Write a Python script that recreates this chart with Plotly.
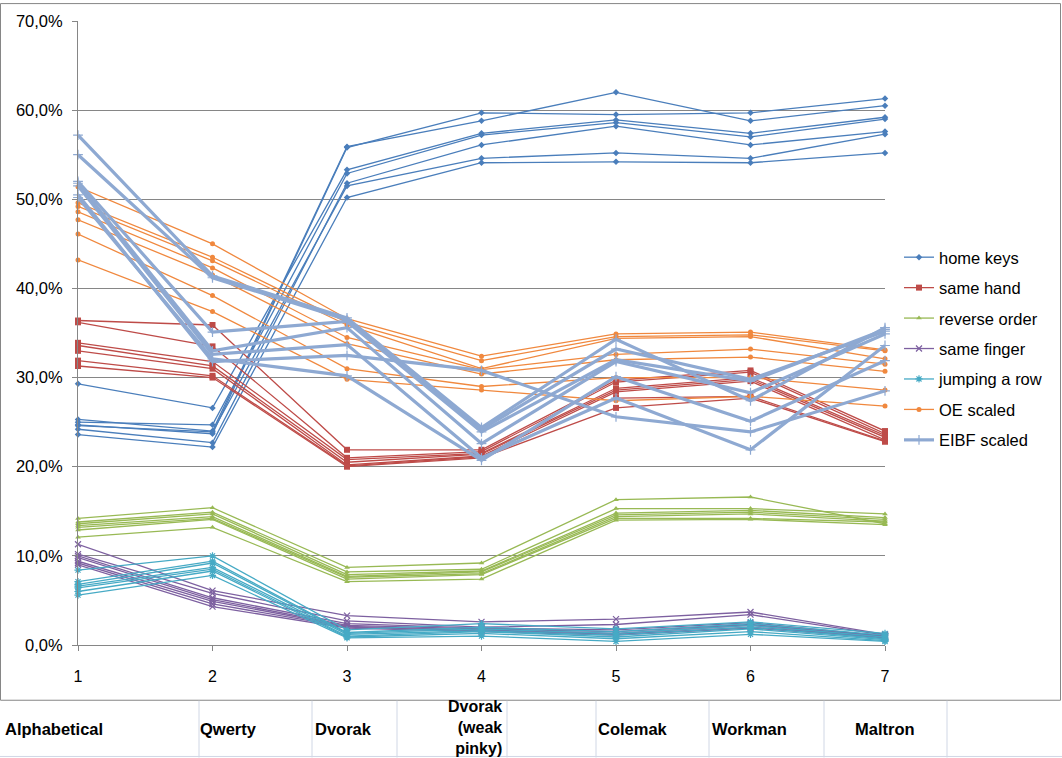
import plotly.graph_objects as go

# ---------------- data (values in %) ----------------
positions = [1, 2, 3, 4, 5, 6, 7]
tick_labels = ["1", "2", "3", "4", "5", "6", "7"]
layout_names = ["Alphabetical", "Qwerty", "Dvorak", "Dvorak<br>(weak<br>pinky)",
                "Colemak", "Workman", "Maltron"]
series_names = ["home keys", "same hand", "reverse order", "same finger",
                "jumping a row", "OE scaled", "EIBF scaled"]

home_keys = [
    [25.3, 24.0, 55.9, 58.8, 62.0, 58.8, 60.5],
    [24.7, 23.7, 55.8, 59.7, 59.5, 59.7, 61.3],
    [29.3, 26.6, 53.3, 57.4, 58.9, 57.4, 59.2],
    [25.0, 24.7, 52.9, 57.2, 58.6, 57.0, 59.0],
    [24.2, 22.7, 51.8, 56.1, 58.2, 56.1, 57.6],
    [24.6, 23.9, 51.5, 54.6, 55.2, 54.6, 57.3],
    [23.6, 22.2, 50.2, 54.1, 54.2, 54.1, 55.2],
]
same_hand = [
    [36.4, 35.9, 21.9, 21.9, 29.7, 30.8, 24.0],
    [36.2, 33.5, 21.0, 21.7, 29.5, 30.6, 23.7],
    [33.9, 31.8, 20.8, 21.5, 28.8, 30.0, 23.5],
    [33.6, 31.3, 20.5, 21.4, 28.6, 29.8, 23.3],
    [33.0, 31.0, 20.2, 21.2, 28.4, 29.6, 23.0],
    [31.9, 30.2, 20.1, 21.1, 27.7, 27.9, 22.9],
    [31.3, 30.0, 20.0, 21.0, 26.6, 27.7, 22.8],
]
reverse_order = [
    [14.2, 15.4, 8.7, 9.2, 16.3, 16.6, 13.6],
    [13.8, 14.9, 8.2, 8.5, 15.3, 15.3, 14.7],
    [13.6, 14.7, 7.9, 8.3, 14.8, 15.1, 14.3],
    [13.4, 14.4, 7.7, 8.2, 14.6, 14.9, 14.1],
    [13.2, 14.2, 7.6, 8.0, 14.4, 14.7, 13.9],
    [12.9, 14.1, 7.4, 7.9, 14.2, 14.2, 13.8],
    [12.1, 13.2, 7.1, 7.4, 14.0, 14.1, 13.5],
]
same_finger = [
    [11.3, 6.1, 3.3, 2.6, 2.9, 3.7, 1.2],
    [10.2, 5.8, 2.7, 2.0, 2.3, 3.4, 1.1],
    [10.0, 5.3, 2.4, 1.9, 1.7, 2.5, 1.0],
    [9.8, 5.1, 2.2, 1.8, 1.5, 2.3, 1.0],
    [9.4, 4.9, 2.1, 1.7, 1.3, 2.2, 0.9],
    [9.2, 4.6, 2.0, 1.6, 1.2, 2.0, 0.9],
    [9.0, 4.3, 1.9, 1.5, 1.1, 1.9, 0.8],
]
jumping_a_row = [
    [8.4, 10.0, 1.7, 2.4, 1.8, 2.6, 1.3],
    [7.1, 9.4, 1.4, 2.0, 1.5, 2.4, 1.1],
    [6.8, 9.2, 1.3, 1.8, 1.3, 2.2, 0.9],
    [6.6, 8.7, 1.2, 1.6, 1.1, 2.0, 0.7],
    [6.4, 8.5, 1.0, 1.5, 0.9, 1.8, 0.6],
    [6.0, 8.3, 0.9, 1.3, 0.7, 1.5, 0.5],
    [5.6, 7.8, 0.8, 1.0, 0.4, 1.2, 0.4],
]
oe_scaled = [
    [51.4, 45.0, 36.6, 32.4, 34.9, 35.1, 33.1],
    [49.6, 43.5, 36.2, 31.9, 34.6, 34.8, 33.0],
    [49.2, 43.1, 35.9, 31.0, 34.4, 34.6, 32.1],
    [48.6, 42.3, 34.5, 30.9, 32.6, 33.2, 31.5],
    [47.7, 41.5, 33.8, 30.4, 32.0, 32.3, 30.7],
    [46.1, 39.2, 31.0, 29.0, 30.0, 30.0, 28.6],
    [43.2, 37.4, 29.8, 28.6, 27.4, 27.9, 26.8],
]
eibf_scaled = [
    [57.2, 41.4, 36.7, 24.4, 34.3, 27.4, 35.6],
    [55.0, 41.2, 36.5, 24.2, 33.2, 29.8, 35.2],
    [52.0, 35.1, 36.3, 23.9, 32.0, 29.6, 35.4],
    [51.8, 33.0, 35.6, 22.6, 31.8, 28.3, 34.9],
    [51.5, 32.6, 33.7, 21.0, 27.7, 21.9, 33.6],
    [50.5, 31.8, 32.5, 30.8, 25.6, 23.9, 28.5],
    [50.2, 32.1, 30.2, 20.7, 30.1, 25.1, 31.9],
]
series_values = [home_keys, same_hand, reverse_order, same_finger,
                 jumping_a_row, oe_scaled, eibf_scaled]

# ---------------- styles ----------------
styles = [
    dict(color="#4A7EBB", symbol="diamond", size=5, width=1.3, open=False),
    dict(color="#BE4B48", symbol="square", size=6, width=1.3, open=False),
    dict(color="#98B954", symbol="triangle-up", size=5, width=1.3, open=False),
    dict(color="#7D60A0", symbol="x-thin-open", size=6, width=1.3, open=True),
    dict(color="#46AAC5", symbol="asterisk-open", size=6, width=1.3, open=True),
    dict(color="#F0883E", symbol="circle", size=5, width=1.3, open=False),
    dict(color="#8EA9D2", symbol="cross-thin-open", size=7, width=3.2, open=True),
]

W, H = 1062, 758
L, R, T, B = 78, 885, 18, 645


def px(x):
    return (x - L) / (R - L)


def py(y):
    return (B - y) / (B - T)


fig = go.Figure()
for name, vals, st in zip(series_names, series_values, styles):
    xs, ys = [], []
    for line in vals:
        xs += positions + [None]
        ys += [v / 100 for v in line] + [None]
    marker = dict(symbol=st["symbol"], size=st["size"], color=st["color"])
    if st["open"]:
        marker["line"] = dict(color=st["color"], width=1.2)
    else:
        marker["line"] = dict(width=0)
    fig.add_trace(go.Scatter(
        x=xs, y=ys, mode="lines+markers", name=name, legendgroup=name,
        line=dict(color=st["color"], width=st["width"]),
        marker=marker, connectgaps=False, cliponaxis=False,
    ))

fig.update_layout(
    width=W, height=H, autosize=False,
    margin=dict(l=L, r=W - R, t=T, b=H - B, pad=0),
    paper_bgcolor="white", plot_bgcolor="white",
    separators=",.",
    font=dict(family="Liberation Sans", size=16, color="black"),
    showlegend=True,
    legend=dict(x=px(899), y=py(238), xanchor="left", yanchor="top",
                bgcolor="rgba(0,0,0,0)", font=dict(size=16.5),
                tracegroupgap=6, itemwidth=30, traceorder="grouped"),
)
fig.update_xaxes(range=[1, 7], tickmode="array", tickvals=positions, ticktext=tick_labels,
                 showgrid=False, zeroline=False, showline=True, linecolor="#868686",
                 linewidth=1, ticks="outside", ticklen=5, tickcolor="#868686",
                 ticklabelstandoff=12, fixedrange=True)
fig.update_yaxes(range=[0, 0.7], dtick=0.1, tick0=0, tickformat=".1%",
                 showgrid=True, gridcolor="#868686", gridwidth=1, zeroline=False,
                 showline=True, linecolor="#868686", linewidth=1, ticks="outside",
                 ticklen=5, tickcolor="#868686", ticklabelstandoff=6, fixedrange=True,
                 tickfont=dict(size=16.5))

shapes = []
# chart border
shapes.append(dict(type="rect", xref="paper", yref="paper", x0=px(0.5), x1=px(1060.5),
                   y0=py(700.5), y1=py(0.5), line=dict(color="#868686", width=1),
                   fillcolor="rgba(0,0,0,0)", layer="below"))
# spreadsheet row
cell_edges = [199, 312, 397, 507, 596, 709, 824, 947]
for cx in cell_edges:
    shapes.append(dict(type="line", xref="paper", yref="paper", x0=px(cx), x1=px(cx),
                       y0=py(701), y1=py(758), line=dict(color="#D0D7E5", width=1)))
shapes.append(dict(type="line", xref="paper", yref="paper", x0=px(0), x1=px(1062),
                   y0=py(757), y1=py(757), line=dict(color="#D0D7E5", width=1)))
fig.update_layout(shapes=shapes)

label_pos = [(3, "left", 729.5, 16.5), (198, "left", 729.5, 16.5), (313, "left", 729.5, 16.5),
             (504, "right", 727.5, 16), (596, "left", 729.5, 16.5),
             (710, "left", 729.5, 16.5), (885, "center", 729.5, 16.5)]
for name, (lx, anchor, ly, fs) in zip(layout_names, label_pos):
    fig.add_annotation(x=px(lx), y=py(ly), xref="paper", yref="paper", text="<b>" + name + "</b>",
                       showarrow=False, xanchor=anchor, yanchor="middle", align=anchor,
                       font=dict(size=fs, family="Liberation Sans", color="black"))

fig.write_html("out.html", config={"displayModeBar": False},
               post_script="document.body.style.margin='0px';document.body.style.padding='0px';")
